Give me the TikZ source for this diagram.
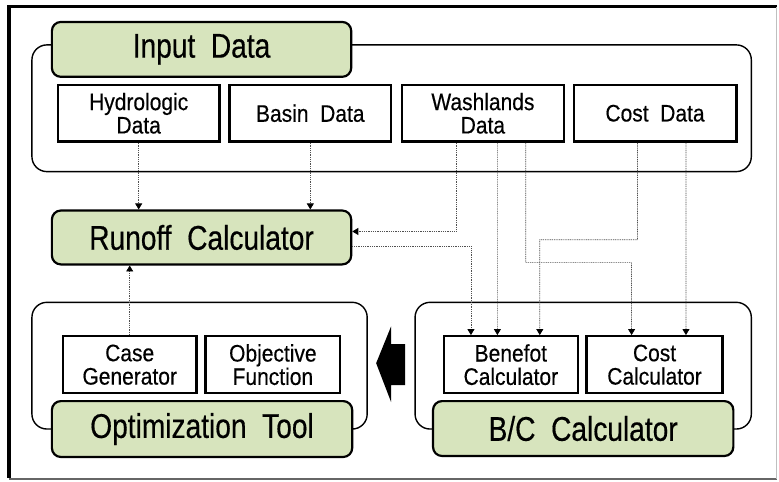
\documentclass[tikz,border=0pt]{standalone}
\usepackage{fontspec}
\setmainfont{Liberation Sans}[FakeStretch=0.88]
\newfontfamily\headfont{Liberation Sans}[FakeStretch=0.82, FakeBold=0.4]
\newfontfamily\partfont{Liberation Sans}[FakeStretch=0.88, FakeBold=0.4]
\usetikzlibrary{arrows.meta}
\definecolor{panelgreen}{HTML}{D7E4BD}
\definecolor{flowgray}{HTML}{505050}

\begin{document}
\begin{tikzpicture}[x=1bp,y=-1bp,
  title/.style={draw=black, line width=2.2bp, fill=panelgreen, rounded corners=9bp,
    minimum width=300bp, minimum height=55bp, inner sep=0pt,
    font=\headfont\fontsize{34.5}{38}\selectfont},
  part/.style={draw=black, line width=2.4bp, fill=white, minimum height=57bp,
    inner sep=0pt, align=center, font=\partfont\fontsize{24}{23.5}\selectfont},
  group/.style={draw=black, line width=1.4bp, rounded corners=15bp, inner sep=0pt,
    minimum height=127bp},
  flow/.style={draw=flowgray, line width=0.7bp, dash pattern=on 1bp off 0.8bp,
    -{Triangle[length=6bp,width=7bp,color=black]}},
]
% page and frame
\path[fill=white] (0,0) rectangle (779,483);
\draw[line width=3.5bp] (9,479) -- (9,6.5) -- (779,6.5);
\draw[black!60, line width=1.2bp] (9,480) -- (779,480);
\draw[black!25, line width=0.6bp] (778,7) -- (778,480);

% containers
\node[group, minimum width=721bp] (ingrp)  at (392.5,108.5) {};
\node[group, minimum width=336bp] (optgrp) at (200,366.5) {};
\node[group, minimum width=337bp] (bcgrp)  at (584.5,366.5) {};

% headers
\node[title] (input)  at (202,49.5) {Input\ \ Data};
\node[title, minimum height=54bp] (runoff) at (202,238) {Runoff\ \ Calculator};
\node[title, minimum width=301bp, minimum height=56bp] (opt) at (202.5,430) {Optimization\ \ Tool};
\node[title, minimum width=301bp] (bc) at (584.5,429.5) {B/C\ \ Calculator};

% data boxes
\node[part, minimum width=162bp] (hyd)   at (139,113.5)   {Hydrologic\\Data};
\node[part, minimum width=162bp] (basin) at (311,113.5)   {Basin\ \ Data};
\node[part, minimum width=162bp] (wash)  at (484,113.5)   {Washlands\\Data};
\node[part, minimum width=163bp] (costd) at (656.5,113.5) {Cost\ \ Data};

% tool boxes
\node[part, minimum width=134bp] (casegen) at (130,365.5)   {Case\\Generator};
\node[part, minimum width=135bp] (objf)    at (273.5,365.5) {Objective\\Function};
\node[part, minimum width=134bp] (benef)   at (512,365.5)   {Benefot\\Calculator};
\node[part, minimum width=136bp] (costc)   at (656,365.5)   {Cost\\Calculator};

% data flows
\draw[flow] (hyd.south) -- (hyd.south |- runoff.north);
\draw[flow] (basin.south) -- (basin.south |- runoff.north);
\draw[flow] (casegen.north) -- (casegen.north |- runoff.south);
\draw[flow] ([xshift=-27bp]wash.south) |- ([yshift=6bp]runoff.east);
\draw[flow] ([yshift=-9bp]runoff.east) -| ([xshift=-40bp]benef.north);
\draw[flow] ([xshift=14.5bp]wash.south) -- ([xshift=-13.5bp]benef.north);
\draw[flow] ([xshift=43bp]wash.south) |- ++(106,120) -- ([xshift=-23bp]costc.north);
\draw[flow] ([xshift=-17.5bp]costd.south) |- ++(-98,97) -- ([xshift=29bp]benef.north);
\draw[flow] ([xshift=31bp]costd.south) -- ([xshift=31.5bp]costc.north);

% result fed back to the optimizer
\fill[black] (377,364) -- (392,327) -- (392,345) -- (406,345) -- (406,386)
  -- (392,386) -- (392,403) -- cycle;
\end{tikzpicture}
\end{document}
